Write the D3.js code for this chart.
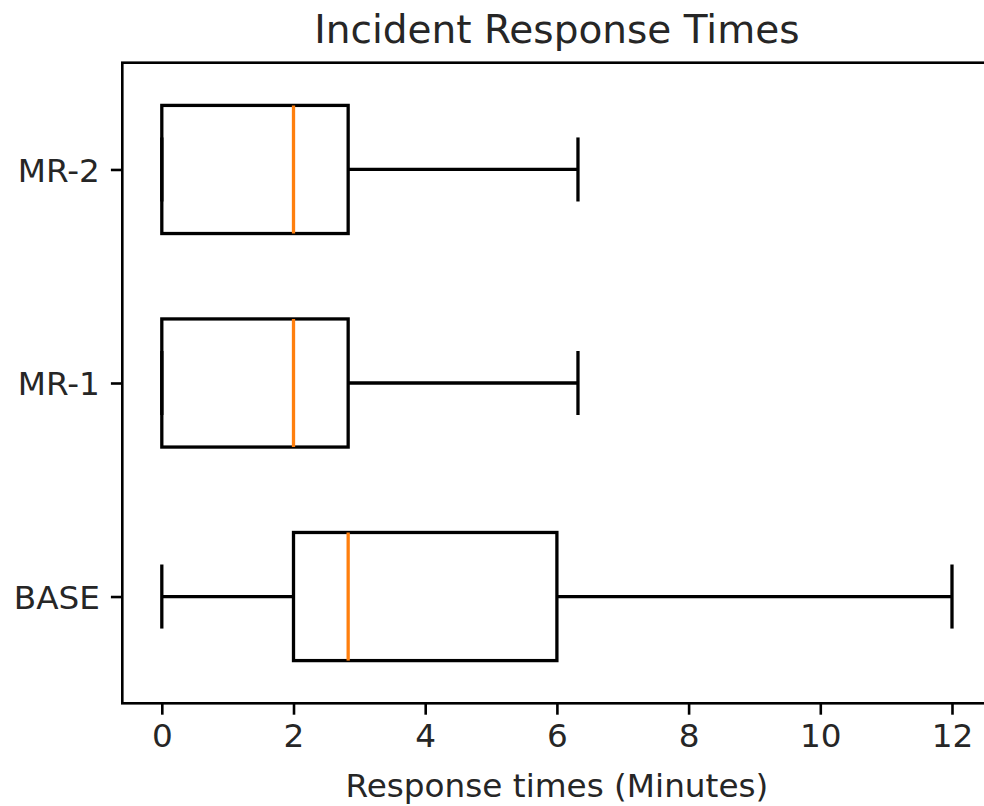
<!DOCTYPE html>
<html>
<head>
<meta charset="utf-8">
<script src="https://cdn.jsdelivr.net/npm/d3@7"></script>
<style>
  body { margin: 0; background: #fff; }
  svg { display: block; font-family: "DejaVu Sans", sans-serif; }
</style>
</head>
<body>
<svg width="984" height="806"></svg>
<script>
"use strict";

// one entry per box, bottom to top
var categories = ["BASE", "MR-1", "MR-2"];
var whiskerLow = [0, 0, 0];
var q1 = [2, 0, 0];
var median = [2.83, 2, 2];
var q3 = [6, 2.83, 2.83];
var whiskerHigh = [12, 6.32, 6.32];
var xTicks = [0, 2, 4, 6, 8, 10, 12];

var boxes = categories.map(function(c, i){
	return {name: c, pos: i + 1, lo: whiskerLow[i], q1: q1[i], med: median[i], q3: q3[i], hi: whiskerHigh[i]};
});

var svg = d3.select("svg");

var xScale = d3.scaleLinear().domain([-0.6, 12.6]).range([122.3, 991.5]);
var yScale = d3.scaleLinear().domain([0.5, 3.5]).range([703.3, 62.7]);
var unit = yScale(0) - yScale(1);
var boxH = 0.6 * unit;
var capH = 0.3 * unit;
var lw = 3.3;

// axes
var xAxis = svg.append("g")
	.attr("transform", "translate(0," + yScale(0.5) + ")")
	.call(d3.axisBottom(xScale).tickValues(xTicks).tickSize(11.4).tickPadding(9));
var yAxis = svg.append("g")
	.attr("transform", "translate(" + xScale(-0.6) + ",0)")
	.call(d3.axisLeft(yScale).tickValues([1, 2, 3]).tickFormat(function(d){ return categories[d - 1]; }).tickSize(11.4).tickPadding(11));

[xAxis, yAxis].forEach(function(a){
	a.select(".domain").remove();
	a.selectAll(".tick line").attr("stroke", "#000").attr("stroke-width", 2.6);
	a.selectAll(".tick text").attr("fill", "#262626").style("font-size", "32.7px").style("font-family", "DejaVu Sans");
});
yAxis.selectAll(".tick text").attr("dy", "0.36em");

var g = svg.selectAll("g.box")
	.data(boxes)
	.enter()
	.append("g")
	.attr("class", "box");

// whiskers
g.append("line")
	.attr("x1", function(d){ return xScale(d.lo); })
	.attr("x2", function(d){ return xScale(d.q1); })
	.attr("y1", function(d){ return yScale(d.pos); })
	.attr("y2", function(d){ return yScale(d.pos); })
	.attr("stroke", "#000").attr("stroke-width", lw);
g.append("line")
	.attr("x1", function(d){ return xScale(d.q3); })
	.attr("x2", function(d){ return xScale(d.hi); })
	.attr("y1", function(d){ return yScale(d.pos); })
	.attr("y2", function(d){ return yScale(d.pos); })
	.attr("stroke", "#000").attr("stroke-width", lw);

// caps
["lo", "hi"].forEach(function(k){
	g.append("line")
		.attr("x1", function(d){ return xScale(d[k]); })
		.attr("x2", function(d){ return xScale(d[k]); })
		.attr("y1", function(d){ return yScale(d.pos) - capH / 2; })
		.attr("y2", function(d){ return yScale(d.pos) + capH / 2; })
		.attr("stroke", "#000").attr("stroke-width", lw);
});

// box
g.append("rect")
	.attr("x", function(d){ return xScale(d.q1); })
	.attr("width", function(d){ return xScale(d.q3) - xScale(d.q1); })
	.attr("y", function(d){ return yScale(d.pos) - boxH / 2; })
	.attr("height", boxH)
	.attr("fill", "none")
	.attr("stroke", "#000").attr("stroke-width", lw);

// median
g.append("line")
	.attr("x1", function(d){ return xScale(d.med); })
	.attr("x2", function(d){ return xScale(d.med); })
	.attr("y1", function(d){ return yScale(d.pos) - boxH / 2; })
	.attr("y2", function(d){ return yScale(d.pos) + boxH / 2; })
	.attr("stroke", "#ff7f0e").attr("stroke-width", lw);

// frame
svg.append("rect")
	.attr("x", xScale(-0.6))
	.attr("y", yScale(3.5))
	.attr("width", xScale(12.6) - xScale(-0.6))
	.attr("height", yScale(0.5) - yScale(3.5))
	.attr("fill", "none")
	.attr("stroke", "#000")
	.attr("stroke-width", 2.6);

svg.append("text")
	.attr("x", (xScale(-0.6) + xScale(12.6)) / 2)
	.attr("y", 42.5)
	.attr("text-anchor", "middle")
	.attr("fill", "#262626")
	.style("font-size", "39px")
	.text("Incident Response Times");

svg.append("text")
	.attr("x", (xScale(-0.6) + xScale(12.6)) / 2)
	.attr("y", 797)
	.attr("text-anchor", "middle")
	.attr("fill", "#262626")
	.style("font-size", "32.7px")
	.text("Response times (Minutes)");
</script>
</body>
</html>
